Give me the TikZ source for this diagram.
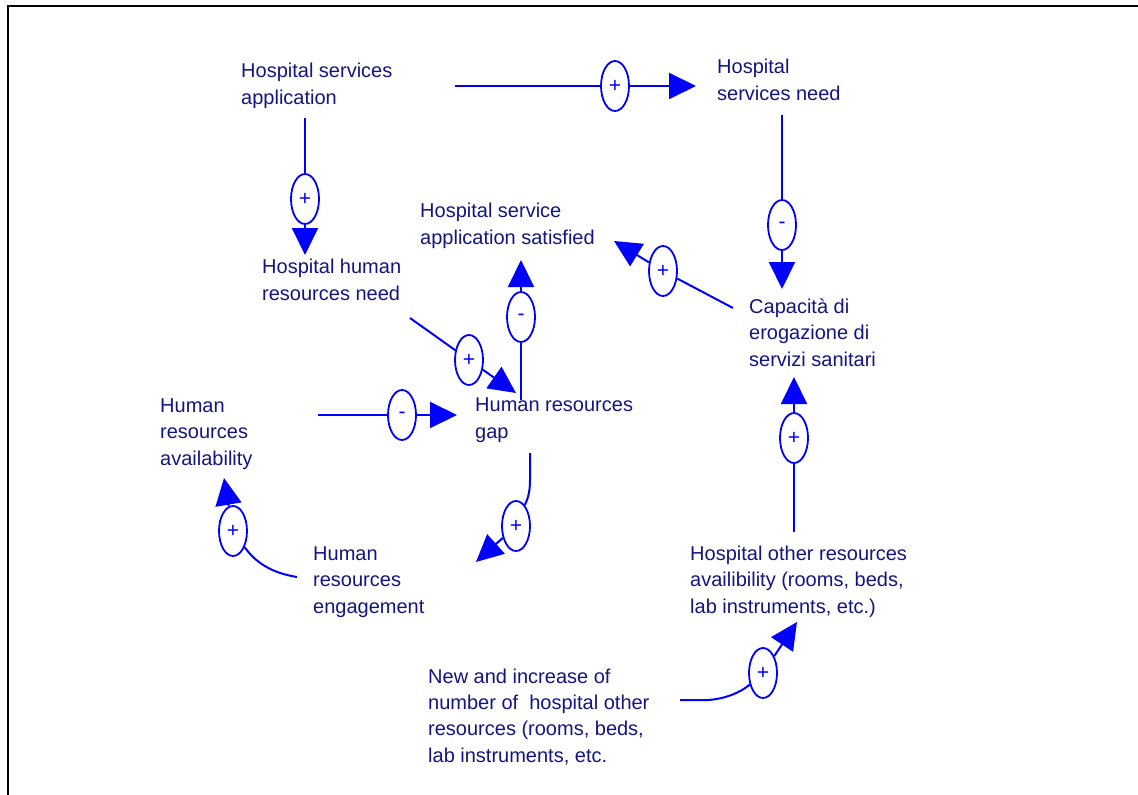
\documentclass[tikz,border=0pt]{standalone}
\usepackage{fontspec}
\setmainfont{Liberation Sans}
\usetikzlibrary{arrows.meta,shapes.geometric}
\definecolor{labelnavy}{RGB}{20,20,130}
\definecolor{linkblue}{RGB}{0,0,255}

\begin{document}
\begin{tikzpicture}[x=1pt,y=-1pt,
  % multi-line labels sit on the baseline of their last line
  var/.style={anchor=base west, align=left, inner sep=0pt, text=labelnavy,
    font=\fontsize{20}{26.3}\selectfont},
  sign/.style={ellipse, draw=linkblue, line width=1.8pt, minimum width=28pt,
    minimum height=50pt, inner sep=0pt, text=linkblue,
    font=\fontsize{21}{21}\selectfont},
  link/.style={draw=linkblue, line width=2pt},
  arr/.style={link, -{Triangle[length=27pt,width=26pt]}}
]
\useasboundingbox (0,0) rectangle (1138,795);

% frame
\draw[line width=2pt] (8,800) -- (8,6) -- (1140,6);

% variables
\node[var] (hsa)  at (241,104) {Hospital services\\application};
\node[var] (hsn)  at (717,100) {Hospital\\services need};
\node[var] (hss)  at (420,244) {Hospital service\\application satisfied};
\node[var] (hhrn) at (262,300) {Hospital human\\resources need};
\node[var] (cap)  at (749,366) {Capacità di\\erogazione di\\servizi sanitari};
\node[var] (hrg)  at (475,438) {Human resources\\gap};
\node[var] (hra)  at (160,465) {Human\\resources\\availability};
\node[var] (hre)  at (313,613) {Human\\resources\\engagement};
\node[var] (hor)  at (690,613) {Hospital other resources\\availibility (rooms, beds,\\lab instruments, etc.)};
\node[var] (new)  at (428,762) {New and increase of\\number of~ hospital other\\resources (rooms, beds,\\lab instruments, etc.};

% polarity markers
\node[sign] (s1)  at (615,86)  {+};
\node[sign] (s2)  at (305,199) {+};
\node[sign] (s3)  at (782,225) {-};
\node[sign] (s4)  at (663,271) {+};
\node[sign] (s5)  at (521,317) {-};
\node[sign] (s6)  at (469,360) {+};
\node[sign] (s7)  at (402,415) {-};
\node[sign] (s8)  at (516,526) {+};
\node[sign] (s9)  at (233,531) {+};
\node[sign] (s10) at (794,438) {+};
\node[sign] (s11) at (763,673) {+};

% connector ends
\coordinate (c1a) at (455,86);   \coordinate (c1b) at (696,86);
\coordinate (c2a) at (305,118);  \coordinate (c2b) at (305,255);
\coordinate (c3a) at (782,115);  \coordinate (c3b) at (782,289);
\coordinate (c4a) at (733,308);  \coordinate (c4b) at (614,241);
\coordinate (c5a) at (521,400);  \coordinate (c5b) at (521,260);
\coordinate (c6a) at (410,318);  \coordinate (c6b) at (516,393);
\coordinate (c7a) at (318,415);  \coordinate (c7b) at (457,415);
\coordinate (c8a) at (530,453);  \coordinate (c8b) at (476,562);
\coordinate (c9a) at (297,577);  \coordinate (c9b) at (224,478);
\coordinate (c10a) at (794,532); \coordinate (c10b) at (794,377);
\coordinate (c11a) at (680,700); \coordinate (c11b) at (797,622);

% causal links
\draw[link] (c1a) -- (s1);  \draw[arr] (s1) -- (c1b);
\draw[link] (c2a) -- (s2);  \draw[arr] (s2) -- (c2b);
\draw[link] (c3a) -- (s3);  \draw[arr] (s3) -- (c3b);
\draw[link] (c4a) -- (s4);  \draw[arr] (s4) -- (c4b);
\draw[link] (c5a) -- (s5);  \draw[arr] (s5) -- (c5b);
\draw[link] (c6a) -- (s6);  \draw[arr] (s6) -- (c6b);
\draw[link] (c7a) -- (s7);  \draw[arr] (s7) -- (c7b);
\draw[link] (c8a) -- (530,480) .. controls (530,494) and (527,500) .. (s8);
\draw[arr] (s8) -- (c8b);
\draw[link] (c9a) .. controls (272,573) and (256,563) .. (s9);
\draw[arr] (s9) -- (c9b);
\draw[link] (c10a) -- (s10); \draw[arr] (s10) -- (c10b);
\draw[link] (c11a) -- (708,700) .. controls (724,699) and (740,693) .. (s11);
\draw[arr] (s11) -- (c11b);
\end{tikzpicture}
\end{document}
